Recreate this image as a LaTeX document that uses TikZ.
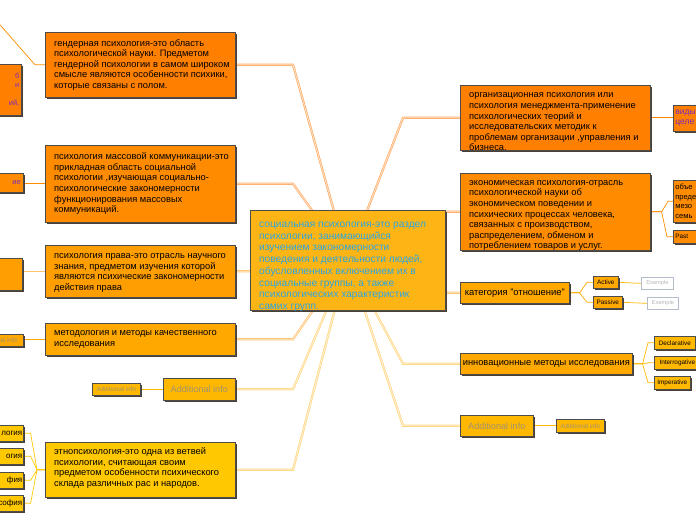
\documentclass[tikz,border=0pt]{standalone}
\usepackage{fontspec}
\setmainfont{Liberation Sans}
\usetikzlibrary{positioning,shadows,backgrounds}

\definecolor{naranjaA}{HTML}{FF7F00}
\definecolor{naranjaB}{HTML}{FF8C00}
\definecolor{naranjaC}{HTML}{FF9E00}
\definecolor{naranjaD}{HTML}{FFA800}
\definecolor{amarilloA}{HTML}{FFB800}
\definecolor{amarilloB}{HTML}{FFC800}
\definecolor{centroF}{HTML}{FDB515}
\definecolor{azulT}{HTML}{2BA6E0}
\definecolor{morado}{HTML}{7D2DB8}
\definecolor{grisT}{HTML}{A09272}
\definecolor{grisE}{HTML}{B8B8B8}
\definecolor{grisB}{HTML}{B4BCCC}
\definecolor{sombra}{HTML}{4A4036}
\definecolor{lineaA}{HTML}{FFAC66}
\definecolor{lineaB}{HTML}{FFC270}
\definecolor{lineaC}{HTML}{FFD680}

\begin{document}
\begin{tikzpicture}[x=1pt, y=-1pt,
    caja/.style={draw=black!70, line width=.6pt, inner sep=0pt, anchor=north west,
                 general shadow={fill=sombra, shadow xshift=2pt, shadow yshift=-2pt}},
    texto/.style={inner sep=0pt, anchor=west, align=left, font=\fontsize{9.3}{10.6}\selectfont},
    chica/.style={caja, font=\fontsize{6.4}{7}\selectfont},
    ejemplo/.style={draw=grisB, fill=white, line width=.7pt, inner sep=0pt, anchor=north west,
                    text=grisE, font=\fontsize{5.7}{6}\selectfont},
    enlace/.style={line width=.7pt, double distance=.8pt},
    rama/.style={line width=.7pt}
  ]
  \useasboundingbox (0,0) rectangle (696,520);
  \clip (0,0) rectangle (696,520);

  % centre
  \node[caja, fill=centroF, minimum width=195pt, minimum height=100pt] (centro) at (250,210) {};
  \node[texto, text=azulT, font=\fontsize{10.2}{11.7}\selectfont, yshift=-6.5pt] (centrot) at ([xshift=9pt]centro.west)
    {социальная психология-это раздел\\ психологии, занимающийся\\ изучением закономерности\\
     поведения и деятельности людей,\\ обусловленных включением их в\\ социальные группы, а также\\
     психологических характеристик\\ самих групп.};

  \coordinate (bendL) at (293,0);
  \coordinate (bendR) at (403,0);

  % left branches
  \node[caja, fill=naranjaA, minimum width=190pt, minimum height=65pt] (genero) at (45,32) {};
  \node[texto] (generot) at ([xshift=9pt]genero.west)
    {гендерная психология-это область\\ психологической науки. Предметом\\ гендерной психологии в самом широком\\
     смысле являются особенности психики,\\ которые связаны с полом.};

  \node[caja, fill=naranjaB, minimum width=190pt, minimum height=77pt] (masa) at (45,145) {};
  \node[texto] (masat) at ([xshift=9pt]masa.west)
    {психология массовой коммуникации-это\\ прикладная область социальной\\ психологии ,изучающая социально-\\
     психологические закономерности\\ функционирования массовых\\ коммуникаций.};

  \node[caja, fill=naranjaC, minimum width=190pt, minimum height=52pt] (derecho) at (45,245) {};
  \node[texto, yshift=-1.5pt] (derechot) at ([xshift=9pt]derecho.west)
    {психология права-это отрасль научного\\ знания, предметом изучения которой\\
     являются психические закономерности\\ действия права};

  \node[caja, fill=naranjaD, minimum width=190pt, minimum height=32pt] (metodo) at (45,323) {};
  \node[texto] (metodot) at ([xshift=9pt]metodo.west)
    {методология и методы качественного\\ исследования};

  \node[caja, fill=amarilloA, minimum width=72pt, minimum height=22pt, text=grisT,
        font=\fontsize{9.1}{10}\selectfont] (infoL) at (163,378) {Additional info};
  \node[chica, fill=amarilloA, minimum width=48pt, minimum height=12pt, text=grisT,
        font=\fontsize{6.3}{7}\selectfont] (infoLs) at (92,383) {Additional info};

  \node[caja, fill=amarilloB, minimum width=190pt, minimum height=55pt] (etno) at (45,442) {};
  \node[texto, yshift=1.8pt] (etnot) at ([xshift=9pt]etno.west)
    {этнопсихология-это одна из ветвей\\ психологии, считающая своим\\
     предметом особенности психического\\ склада различных рас и народов.};

  % left edge (cut)
  \node[caja, fill=naranjaA, minimum width=52pt, minimum height=51pt, text=morado,
        font=\fontsize{7.5}{9.2}\selectfont, align=right, text width=48pt] (gen1) at (-31,64) {б\\ и\\ ~\\ ий,};
  \coordinate (gen0) at (-6,18);
  \node[caja, fill=naranjaB, minimum width=53pt, minimum height=19pt, text=morado,
        font=\fontsize{7.5}{9}\selectfont, align=right, text width=48pt] (masa1) at (-30,173) {ие};
  \node[caja, fill=naranjaC, minimum width=52pt, minimum height=32pt] (derecho1) at (-30,258) {};
  \node[chica, fill=naranjaD, minimum width=52pt, minimum height=12pt, text=grisT] (metodo1) at (-29,334) {Additional info};
  \foreach \nombre/\y/\txt in {etno1/425/логия, etno2/448/огия, etno3/472/фия, etno4/495/софия}
    \node[caja, fill=amarilloB, minimum width=53pt, minimum height=16pt, align=right, text width=51pt,
          font=\fontsize{8}{9}\selectfont] (\nombre) at (-30,\y) {\txt};

  % right branches
  \node[caja, fill=naranjaA, minimum width=190pt, minimum height=65pt] (org) at (460,85) {};
  \node[texto, yshift=-4.2pt] (orgt) at ([xshift=9pt]org.west)
    {организационная психология или\\ психология менеджмента-применение\\ психологических теорий и\\
     исследовательских методик к\\ проблемам организации ,управления и\\ бизнеса.};

  \node[caja, fill=naranjaB, minimum width=190pt, minimum height=77pt] (econ) at (460,173) {};
  \node[texto, yshift=-3.8pt] (econt) at ([xshift=9pt]econ.west)
    {экономическая психология-отрасль\\ психологической науки об\\ экономическом поведении и\\
     психических процессах человека,\\ связанных с производством,\\ распределением, обменом и\\
     потреблением товаров и услуг.};

  \node[caja, fill=naranjaD, minimum width=109pt, minimum height=21pt, font=\fontsize{9.4}{10}\selectfont] (categoria) at (460,282) {категория "отношение"};
  \node[caja, fill=naranjaD, minimum width=172pt, minimum height=21pt, font=\fontsize{9.3}{10}\selectfont] (innov) at (460,353) {инновационные методы исследования};
  \node[caja, fill=amarilloA, minimum width=73pt, minimum height=21pt, text=grisT,
        font=\fontsize{9.1}{10}\selectfont] (infoR) at (460,415) {Additional info};
  \node[chica, fill=amarilloA, minimum width=48pt, minimum height=13pt, text=grisT,
        font=\fontsize{6.3}{7}\selectfont] (infoRs) at (556,419) {Additional info};

  \node[chica, fill=naranjaD, minimum width=25pt, minimum height=12pt] (activo) at (593,276) {Active};
  \node[chica, fill=naranjaD, minimum width=29pt, minimum height=12pt] (pasivo) at (593,296) {Passive};
  \node[ejemplo, minimum width=32pt, minimum height=12pt] (ej1) at (641,277) {Example};
  \node[ejemplo, minimum width=31pt, minimum height=12pt] (ej2) at (647,297) {Example};

  \node[chica, fill=amarilloA, minimum width=41pt, minimum height=13pt] (decl) at (654,336) {Declarative};
  \node[chica, fill=amarilloA, minimum width=46pt, minimum height=13pt] (inter) at (654,356) {Interrogative};
  \node[chica, fill=amarilloA, minimum width=36pt, minimum height=13pt] (imper) at (654,376) {Imperative};

  \node[caja, fill=naranjaA, minimum width=40pt, minimum height=26pt, text=morado, text width=36pt, align=left,
        font=\fontsize{8.6}{10}\selectfont] (vidy) at (673,105) {виды\\ целе};
  \node[caja, fill=naranjaB, minimum width=40pt, minimum height=42pt, text width=36pt, align=left,
        font=\fontsize{7.6}{9.8}\selectfont] (obie) at (673,180) {объе\\ преде\\ мезо\\ семь};
  \node[chica, fill=naranjaB, minimum width=30pt, minimum height=13pt, text width=26pt, align=left] (past) at (673,230) {Past};

  % connectors
  \begin{scope}[on background layer]
    \foreach \hijo/\col in {genero/lineaA, masa/lineaA, derecho/lineaB, metodo/lineaB, infoL/lineaC, etno/lineaC}
      \draw[enlace, draw=\col, double=\col!35] (\hijo.east) -- (\hijo.east -| bendL) -- (centro.center);
    \foreach \hijo/\col in {org/lineaA, econ/lineaA, categoria/lineaB, innov/lineaC, infoR/lineaC}
      \draw[enlace, draw=\col, double=\col!35] (\hijo.west) -- (\hijo.west -| bendR) -- (centro.center);

    \draw[rama, draw=naranjaB] (genero.west) -- ++(-10,0) -- (gen0);
    \draw[rama, draw=naranjaB] (masa.west) -- (masa.west -| masa1.east);
    \draw[line width=1.6pt, draw=lineaB] (derecho.west) -- (derecho.west -| derecho1.east);
    \draw[rama, draw=naranjaD] (metodo.west) -- (metodo.west -| metodo1.east);
    \draw[rama, draw=amarilloA] (infoL.west) -- (infoL.west -| infoLs.east);
    \foreach \n in {etno1, etno2, etno3, etno4}
      \draw[rama, draw=amarilloB] (etno.west) -- ++(-8,0) -- ([xshift=7pt]\n.east) -- (\n.east);

    \draw[rama, draw=naranjaA] (org.east) -- (org.east -| vidy.west);
    \draw[rama, draw=naranjaB] (econ.east) -- ++(11,0) -- ([xshift=-5pt]obie.west) -- (obie.west);
    \draw[rama, draw=naranjaB] (econ.east) -- ++(11,0) -- ([xshift=-6pt]past.west) -- (past.west);
    \foreach \n in {activo, pasivo}
      \draw[rama, draw=naranjaD] (categoria.east) -- ++(10,0) -- ([xshift=-6pt]\n.west) -- (\n.west);
    \draw[rama, draw=amarilloA] (activo.east) -- (ej1.west);
    \draw[rama, draw=amarilloA] (pasivo.east) -- (ej2.west);
    \foreach \n in {decl, inter, imper}
      \draw[rama, draw=amarilloA] (innov.east) -- ++(10,0) -- ([xshift=-6pt]\n.west) -- (\n.west);
    \draw[rama, draw=amarilloA] (infoR.east) -- (infoRs.west);
  \end{scope}
\end{tikzpicture}
\end{document}
